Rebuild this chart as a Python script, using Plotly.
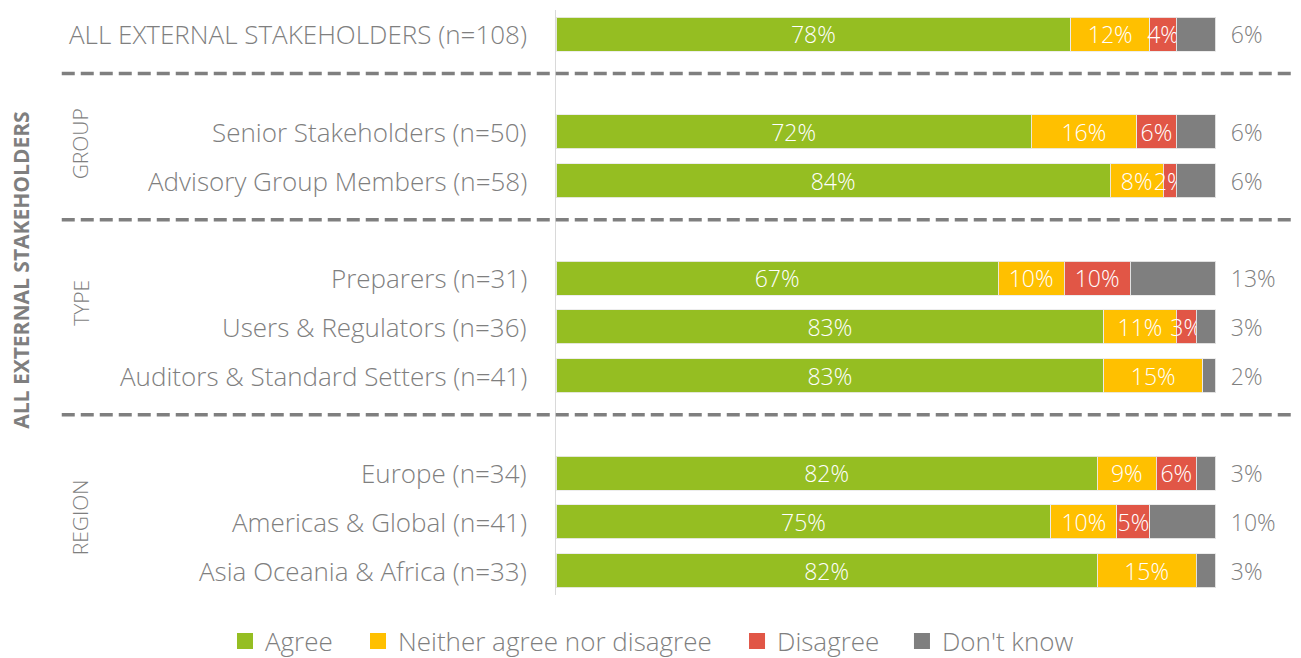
import plotly.graph_objects as go

# ---- data ----
categories = [
    "ALL EXTERNAL STAKEHOLDERS (n=108)",
    "Senior Stakeholders (n=50)",
    "Advisory Group Members (n=58)",
    "Preparers (n=31)",
    "Users & Regulators (n=36)",
    "Auditors & Standard Setters (n=41)",
    "Europe (n=34)",
    "Americas & Global (n=41)",
    "Asia Oceania & Africa (n=33)",
]
row_groups = ["ALL", "GROUP", "GROUP", "TYPE", "TYPE", "TYPE", "REGION", "REGION", "REGION"]
agree = [78, 72, 84, 67, 83, 83, 82, 75, 82]
neither = [12, 16, 8, 10, 11, 15, 9, 10, 15]
disagree = [4, 6, 2, 10, 3, 0, 6, 5, 0]
dont_know = [6, 6, 6, 13, 3, 2, 3, 10, 3]
series_names = ["Agree", "Neither agree nor disagree", "Disagree", "Don't know"]
group_titles = ["GROUP", "TYPE", "REGION"]
side_title = "ALL EXTERNAL STAKEHOLDERS"

colors = ["#95BE22", "#FFC000", "#E15646", "#7F7F7F"]
GREY = "#7F7F7F"
FONT = "Open Sans"
LABEL_SIZE = 26
BAR_SIZE = 23
legend_x = [-0.4467, -0.2672, 0.2443, 0.4669]

# positions: one slot per row, an extra empty slot between groups
ypos = []
separators = []
pos = 0
for i, g in enumerate(row_groups):
    if i > 0 and g != row_groups[i - 1]:
        separators.append(ypos[-1] + 0.8)
        pos += 1
    ypos.append(pos)
    pos += 1

fig = go.Figure()
series = [agree, neither, disagree, dont_know]
for k, (name, vals, col) in enumerate(zip(series_names, series, colors)):
    last = k == len(series) - 1
    if last:
        texts = ["\u00a0\u00a0" + f"{v}%" for v in vals]
    else:
        texts = [f"{v}%" if v > 0 else "" for v in vals]
    fig.add_trace(go.Bar(
        name=name, y=ypos, x=vals, orientation="h",
        marker=dict(color=col, line=dict(color="rgba(235,235,235,0.9)", width=1)),
        width=0.7,
        text=texts,
        textposition="outside" if last else "inside",
        insidetextanchor="middle",
        textangle=0,
        constraintext="none",
        cliponaxis=False,
        textfont=dict(family=FONT, size=BAR_SIZE, color=GREY if last else "white",
                      weight=300),
        hoverinfo="skip",
        showlegend=False,
    ))

# legend entries (square keys), one legend per entry for Excel-like spacing
legend_layouts = {}
for k, (name, col) in enumerate(zip(series_names, colors)):
    lname = "legend" if k == 0 else f"legend{k + 1}"
    fig.add_trace(go.Scatter(
        x=[None], y=[None], mode="markers", name=name,
        marker=dict(symbol="square", size=16, color=col),
        legend=lname, showlegend=True, hoverinfo="skip",
    ))
    legend_layouts[lname] = dict(
        orientation="h", x=legend_x[k], xanchor="left", y=-0.079,
        yanchor="middle", bgcolor="rgba(0,0,0,0)",
        font=dict(family=FONT, size=LABEL_SIZE, color=GREY, weight=300),
        itemwidth=30,
    )

shapes = []
for s in separators:
    shapes.append(dict(type="line", xref="paper", yref="y", x0=-0.667, x1=1.0,
                       y0=s, y1=s, line=dict(color=GREY, width=3.5, dash="13px,6px")))

annotations = []
for c, y in zip(categories, ypos):
    annotations.append(dict(xref="paper", yref="y", x=-0.037, y=y, text=c,
                            showarrow=False, xanchor="right", yanchor="middle",
                            font=dict(family=FONT, size=LABEL_SIZE, color=GREY,
                                      weight=300)))
# rotated group titles
for title in group_titles:
    ys = [y for y, g in zip(ypos, row_groups) if g == title]
    if len(ys) == 2:
        yc = ys[0] + 0.25
    elif title == "TYPE":
        yc = ys[0] + 0.5
    else:
        yc = ys[0] + 0.9
    annotations.append(dict(xref="paper", yref="y", x=-0.642, y=yc, text=title,
                            textangle=-90, showarrow=False, xanchor="center",
                            yanchor="middle",
                            font=dict(family=FONT, size=21, color=GREY, weight=300)))
annotations.append(dict(xref="paper", yref="paper", x=-0.722, y=0.556,
                        text="<b>" + side_title + "</b>", textangle=-90,
                        showarrow=False, xanchor="center", yanchor="middle",
                        font=dict(family=FONT, size=21, color=GREY)))

# the page body adds an 8px margin, so the figure is 8px smaller each way
fig.update_layout(
    barmode="stack",
    width=1293, height=650,
    margin=dict(l=548, r=4, t=2, b=63, autoexpand=False),
    plot_bgcolor="white", paper_bgcolor="white",
    uniformtext=dict(minsize=BAR_SIZE, mode="show"),
    xaxis=dict(range=[0, 112.3], showgrid=False, zeroline=False,
               showticklabels=False, showline=False, fixedrange=True),
    yaxis=dict(range=[max(ypos) + 0.5, -0.5], showgrid=False, zeroline=False,
               showticklabels=False, showline=True, linecolor="#D9D9D9",
               linewidth=1, fixedrange=True),
    shapes=shapes,
    annotations=annotations,
    showlegend=True,
    font=dict(family=FONT, color=GREY),
    **legend_layouts,
)

fig.write_html("out.html")
